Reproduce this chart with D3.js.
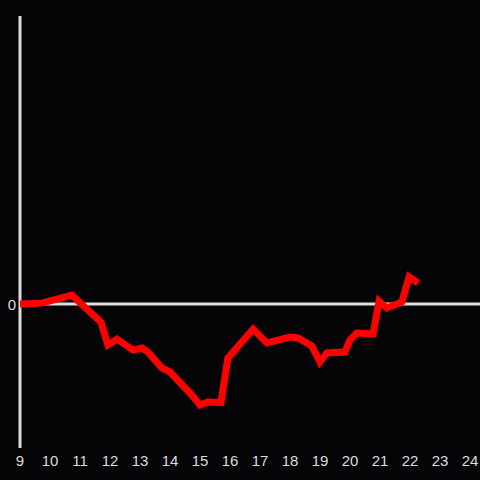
<!DOCTYPE html>
<html><head><meta charset="utf-8">
<script src="https://cdn.jsdelivr.net/npm/d3@7"></script>
<style>html,body{margin:0;padding:0;background:#050407;}svg{display:block;}</style>
</head><body>
<script>
const hours = [9.0,9.73,10.73,11.7,11.93,12.23,12.77,13.07,13.27,13.73,14.0,14.73,15.0,15.27,15.7,15.93,16.77,17.23,18.0,18.27,18.73,19.0,19.23,19.83,20.0,20.23,20.77,20.97,21.23,21.73,21.97,22.27];
const values = [0,0.03,0.31,-0.63,-1.42,-1.22,-1.6,-1.53,-1.67,-2.22,-2.36,-3.16,-3.51,-3.4,-3.42,-1.88,-0.87,-1.35,-1.15,-1.18,-1.46,-2.01,-1.7,-1.67,-1.25,-1.01,-1.04,0.1,-0.14,0.07,0.94,0.73];
const xTicks = [9,10,11,12,13,14,15,16,17,18,19,20,21,22,23,24];
const yTicks = [0];

const W=480,H=480;
const svg=d3.select("body").append("svg").attr("width",W).attr("height",H);
svg.append("rect").attr("width",W).attr("height",H).attr("fill","#050407");
const x=d3.scaleLinear().domain([9,24]).range([20,470]);
const y=d3.scaleLinear().domain([-5,10]).range([448,16]);
const col="#dcdcdc";
const font="'Liberation Sans', Arial, sans-serif";
svg.append("line").attr("x1",x(9)).attr("x2",x(9)).attr("y1",16).attr("y2",448).attr("stroke",col).attr("stroke-width",3);
svg.append("line").attr("x1",x(9)).attr("x2",480).attr("y1",y(0)).attr("y2",y(0)).attr("stroke",col).attr("stroke-width",3);
svg.append("g").selectAll("text").data(xTicks).join("text")
  .attr("x",d=>x(d)).attr("y",466).attr("text-anchor","middle")
  .attr("font-family",font).attr("font-size",15).attr("fill",col).text(d=>d);
svg.append("g").selectAll("text").data(yTicks).join("text")
  .attr("x",16).attr("y",d=>y(d)+6).attr("text-anchor","end")
  .attr("font-family",font).attr("font-size",15).attr("fill",col).text(d=>d);
const line=d3.line().x((d,i)=>x(hours[i])).y(d=>y(d));
svg.append("path").datum(values).attr("d",line).attr("fill","none").attr("stroke","#ff0000").attr("stroke-width",7).attr("stroke-linejoin","miter");
</script>
</body></html>
